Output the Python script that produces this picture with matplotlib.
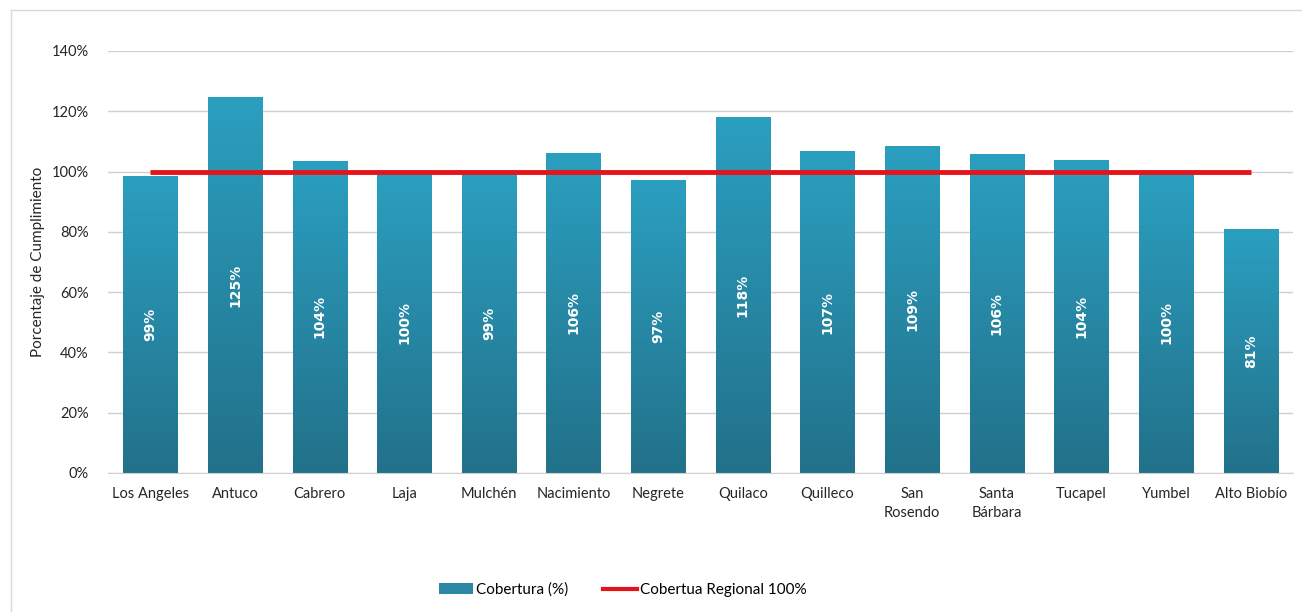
import numpy as np
import matplotlib
matplotlib.use("Agg")
import matplotlib.pyplot as plt
from matplotlib.patches import Patch
from matplotlib.lines import Line2D
from matplotlib.colors import LinearSegmentedColormap
from matplotlib.ticker import FuncFormatter

categories = ["Los Angeles", "Antuco", "Cabrero", "Laja", "Mulchén", "Nacimiento",
              "Negrete", "Quilaco", "Quilleco", "San\nRosendo", "Santa\nBárbara",
              "Tucapel", "Yumbel", "Alto Biobío"]
cobertura = [98.6, 124.8, 103.6, 99.6, 99.3, 106.3, 97.3, 118.1, 106.8, 108.6,
             105.8, 104.0, 99.6, 80.9]
regional = [100] * len(categories)
y_ticks = [0, 20, 40, 60, 80, 100, 120, 140]

plt.rcParams['font.family'] = ['Lato', 'DejaVu Sans']

fig = plt.figure(figsize=(13.02, 6.12), dpi=100)
ax = fig.add_axes([108/1302, 1 - 473/612, (1293-108)/1302, (473-51)/612])

x = np.arange(len(categories))
bars = ax.bar(x, cobertura, width=0.64, color='#2A88A5', zorder=2)

cmap = LinearSegmentedColormap.from_list("tg", ["#2B9FC0", "#22718A"])
grad = np.linspace(0, 1, 256).reshape(-1, 1)
for b in bars:
    x0 = b.get_x(); w = b.get_width(); h = b.get_height()
    im = ax.imshow(grad, cmap=cmap, aspect='auto', extent=[x0, x0 + w, 0, h],
                   origin='upper', zorder=2.1)
    im.set_clip_path(b)

ax.plot(x, regional, color='#E5141B', lw=3.5, zorder=3, solid_capstyle='butt')

for xi, v in zip(x, cobertura):
    ax.text(xi, v / 2, f"{round(v)}%", rotation=90, ha='center', va='center',
            color='white', fontweight='bold', fontsize=10, family='DejaVu Sans',
            zorder=4)

ax.set_xlim(-0.5, len(categories) - 0.5)
ax.set_ylim(0, 140)
ax.set_yticks(y_ticks)
ax.yaxis.set_major_formatter(FuncFormatter(lambda v, p: f"{int(v)}%"))
ax.set_xticks(x)
ax.set_xticklabels(categories, fontsize=10.5, color='#262626', linespacing=1.5)
ax.tick_params(axis='y', labelsize=10.5, colors='#262626', length=0, pad=14)
ax.tick_params(axis='x', length=0, pad=10)
ax.grid(axis='y', color='#D0D0D0', lw=1, zorder=0)
ax.set_axisbelow(True)
for s in ['left', 'right', 'top']:
    ax.spines[s].set_visible(False)
ax.spines['bottom'].set_color('#D0D0D0')

fig.text(38/1302, 1 - 262/612, "Porcentaje de Cumplimiento", rotation=90,
         ha='center', va='center', fontsize=11, color='#262626')

handles = [Patch(facecolor='#2A88A5', edgecolor='none'),
           Line2D([0], [0], color='#E5141B', lw=3)]
fig.legend(handles, ["Cobertura (%)", "Cobertua Regional 100%"], loc='center',
           bbox_to_anchor=(623/1302, 1 - 590/612), ncol=2, frameon=False,
           fontsize=11, handlelength=2.2, handletextpad=0.2, columnspacing=2.3)

fig.add_artist(Line2D([11/1302, 11/1302], [0, 1 - 10/612], transform=fig.transFigure,
                      color='#D9D9D9', lw=1))
fig.add_artist(Line2D([11/1302, 1], [1 - 10/612, 1 - 10/612], transform=fig.transFigure,
                      color='#D9D9D9', lw=1))

fig.savefig("out.png", dpi=100, facecolor='white')
